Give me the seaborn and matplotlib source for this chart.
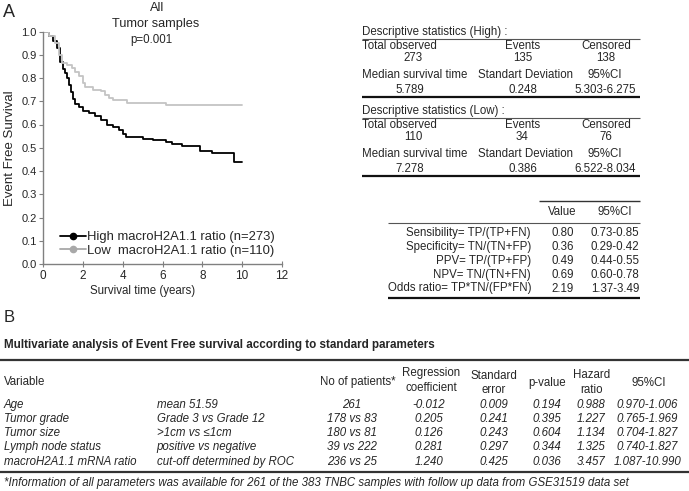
import matplotlib
matplotlib.use("Agg")
import matplotlib.pyplot as plt
from matplotlib.lines import Line2D
import seaborn as sns
import pandas as pd

# survival curves (years, event free fraction)
high_time = [0, 0.3, 0.5, 0.7, 0.85, 1.0, 1.1, 1.2, 1.3, 1.4, 1.5, 1.6, 1.8, 2.0,
             2.3, 2.6, 2.9, 3.2, 3.5, 3.8, 4.0, 4.15, 5.0, 5.5, 6.2, 6.5, 7.0,
             7.9, 8.5, 9.6, 10.0]
high_surv = [1.0, 0.98, 0.96, 0.93, 0.87, 0.84, 0.82, 0.80, 0.77, 0.74, 0.71, 0.69,
             0.675, 0.66, 0.648, 0.635, 0.62, 0.60, 0.59, 0.575, 0.56, 0.548, 0.538,
             0.534, 0.525, 0.517, 0.506, 0.484, 0.476, 0.44, 0.44]
low_time = [0, 0.3, 0.6, 0.8, 0.95, 1.2, 1.45, 1.6, 1.8, 2.0, 2.1, 2.5, 2.9, 3.1,
            3.3, 3.5, 4.2, 6.2, 10.0]
low_surv = [1.0, 0.98, 0.95, 0.90, 0.865, 0.855, 0.843, 0.825, 0.807, 0.78, 0.763,
            0.75, 0.742, 0.728, 0.715, 0.706, 0.693, 0.682, 0.682]
group_labels = ["High macroH2A1.1 ratio (n=273)", "Low  macroH2A1.1 ratio (n=110)"]

# descriptive statistics
high_stats = ["273", "135", "138", "5.789", "0.248", "5.303-6.275"]
low_stats = ["110", "34", "76", "7.278", "0.386", "6.522-8.034"]

# ROC cut-off performance
diag_labels = ["Sensibility= TP/(TP+FN)", "Specificity= TN/(TN+FP)", "PPV= TP/(TP+FP)",
               "NPV= TN/(TN+FN)", "Odds ratio= TP*TN/(FP*FN)"]
diag_values = ["0.80", "0.36", "0.49", "0.69", "2.19"]
diag_ci = ["0.73-0.85", "0.29-0.42", "0.44-0.55", "0.60-0.78", "1.37-3.49"]

# multivariate table
mv_variables = ["Age", "Tumor grade", "Tumor size", "Lymph node status", "macroH2A1.1 mRNA ratio"]
mv_compare = ["mean 51.59", "Grade 3 vs Grade 12", ">1cm vs \u22641cm", "positive vs negative",
              "cut-off determined by ROC"]
mv_patients = ["261", "178 vs 83", "180 vs 81", "39 vs 222", "236 vs 25"]
mv_coef = ["-0.012", "0.205", "0.126", "0.281", "1.240"]
mv_se = ["0.009", "0.241", "0.243", "0.297", "0.425"]
mv_p = ["0.194", "0.395", "0.604", "0.344", "0.036"]
mv_hr = ["0.988", "1.227", "1.134", "1.325", "3.457"]
mv_ci = ["0.970-1.006", "0.765-1.969", "0.704-1.827", "0.740-1.827", "1.087-10.990"]

sns.set_style("white")
plt.rcParams["font.family"] = ["Liberation Sans", "DejaVu Sans"]

W, H = 689, 491
fig = plt.figure(figsize=(W / 100, H / 100), dpi=100)

# --- panel A: Kaplan-Meier curves
ax = fig.add_axes([43 / W, 1 - 264 / H, (282 - 43) / W, (264 - 31.5) / H])
curves = pd.concat([
    pd.DataFrame({"time": high_time, "survival": high_surv, "group": group_labels[0]}),
    pd.DataFrame({"time": low_time, "survival": low_surv, "group": group_labels[1]}),
])
colors = {group_labels[0]: "#000000", group_labels[1]: "#c4c4c4"}
sns.lineplot(data=curves, x="time", y="survival", hue="group", palette=colors,
             estimator=None, drawstyle="steps-post", linewidth=1.3, legend=False, ax=ax)
ax.set_xlim(0, 12)
ax.set_ylim(0, 1.0)
ax.set_xticks(range(0, 13, 2))
ax.set_yticks([i / 10 for i in range(11)])
ax.set_yticklabels([f"{i / 10:.1f}" for i in range(11)])
for side in ["top", "right"]:
    ax.spines[side].set_visible(False)
for side in ["left", "bottom"]:
    ax.spines[side].set_color("#808080")
    ax.spines[side].set_linewidth(1)
ax.tick_params(axis="y", direction="out", length=3, width=0.8, color="#808080",
               labelsize=8, pad=1.5, left=True)
ax.tick_params(axis="x", direction="inout", length=5, width=0.8, color="#808080",
               labelsize=8.5, pad=2, bottom=True)
ax.set_xlabel("")
ax.set_ylabel("Event Free Survival", fontsize=9.5, labelpad=4)

handles = [Line2D([], [], color="#000000", marker="o", markersize=4.5, lw=1.3),
           Line2D([], [], color="#a8a8a8", marker="o", markersize=4.5, lw=1.3)]
ax.legend(handles, group_labels, loc="upper left", frameon=False, fontsize=9.4,
          bbox_to_anchor=(60 / W, 1 - 231 / H), bbox_transform=fig.transFigure,
          handlelength=2.0, handletextpad=0.1, borderpad=0, borderaxespad=0,
          labelspacing=0.1)

# overlay in pixel coordinates for text and table rules
ov = fig.add_axes([0, 0, 1, 1])
ov.set_xlim(0, W)
ov.set_ylim(H, 0)
ov.axis("off")

def txt(x, y, s, ha="left", size=8.3, **kw):
    ov.text(x, y, s, ha=ha, va="center", fontsize=size, **kw)

def rule(x0, x1, y, lw=0.8, color="#555555"):
    ov.plot([x0, x1], [y, y], color=color, lw=lw, solid_capstyle="butt")

txt(9, 12, "A", ha="center", size=13)
txt(157, 8, "All", ha="center", size=9.2)
txt(156, 24, "Tumor samples", ha="center", size=9.2)
txt(151, 39.5, "p=0.001", ha="center", size=8.3)
txt(142.5, 291, "Survival time (years)", ha="center", size=8.3)

# descriptive statistics blocks
for offset, name, stats in [(0, "High", high_stats), (79, "Low", low_stats)]:
    txt(362, 32 + offset, f"Descriptive statistics ({name}) :")
    rule(362, 640, 39 + offset)
    txt(362, 46 + offset, "Total observed")
    txt(522.5, 46 + offset, "Events", ha="center")
    txt(606, 46 + offset, "Censored", ha="center")
    txt(413, 57.5 + offset, stats[0], ha="center")
    txt(522.5, 57.5 + offset, stats[1], ha="center")
    txt(606, 57.5 + offset, stats[2], ha="center")
    txt(362, 75 + offset, "Median survival time")
    txt(526, 75 + offset, "Standart Deviation", ha="center")
    txt(605, 75 + offset, "95%CI", ha="center")
    txt(410, 90 + offset, stats[3], ha="center")
    txt(523, 90 + offset, stats[4], ha="center")
    txt(605, 90 + offset, stats[5], ha="center")
    rule(362, 640, 97.3 + offset, lw=1.6, color="#111111")

# diagnostic performance table
rule(539, 640, 201, lw=1.0, color="#333333")
txt(562, 211.7, "Value", ha="center")
txt(615, 211.7, "95%CI", ha="center")
rule(388, 640, 222.7)
for i, (lab, val, ci) in enumerate(zip(diag_labels, diag_values, diag_ci)):
    y = 233.3 + i * 13.8
    txt(531, y, lab, ha="right")
    txt(563, y, val, ha="center")
    txt(615, y, ci, ha="center")
rule(388, 640, 298.3, lw=1.6, color="#111111")

# --- panel B: multivariate table
txt(9, 317.5, "B", ha="center", size=12)
txt(4, 345, "Multivariate analysis of Event Free survival according to standard parameters",
    size=8.4, fontweight="bold")
rule(0, W, 360, lw=1.6, color="#333333")
hs = 8.3
txt(4, 381.7, "Variable", size=hs)
txt(357.5, 381.7, "No of patients*", ha="center", size=hs)
txt(431, 373.3, "Regression", ha="center", size=hs)
txt(431, 388.3, "coefficient", ha="center", size=hs)
txt(494, 376, "Standard", ha="center", size=hs)
txt(494, 390, "error", ha="center", size=hs)
txt(547.3, 382.7, "p-value", ha="center", size=hs)
txt(591.3, 375, "Hazard", ha="center", size=hs)
txt(591.3, 390, "ratio", ha="center", size=hs)
txt(648.3, 383.3, "95%CI", ha="center", size=hs)
rows = zip(mv_variables, mv_compare, mv_patients, mv_coef, mv_se, mv_p, mv_hr, mv_ci)
for i, (var, comp, n, b, se, p, hr, ci) in enumerate(rows):
    y = 405 + i * 14.15
    txt(4, y, var, size=hs, style="italic")
    txt(156.7, y, comp, size=hs, style="italic")
    for x, s in [(352, n), (429, b), (494, se), (546.7, p), (590.7, hr), (647.3, ci)]:
        txt(x, y, s, ha="center", size=hs, style="italic")
rule(0, W, 471.7, lw=1.6, color="#333333")
txt(4, 483.3, "*Information of all parameters was available for 261 of the 383 TNBC samples "
    "with follow up data from GSE31519 data set", size=hs, style="italic")

fig.savefig("out.png", dpi=100)
